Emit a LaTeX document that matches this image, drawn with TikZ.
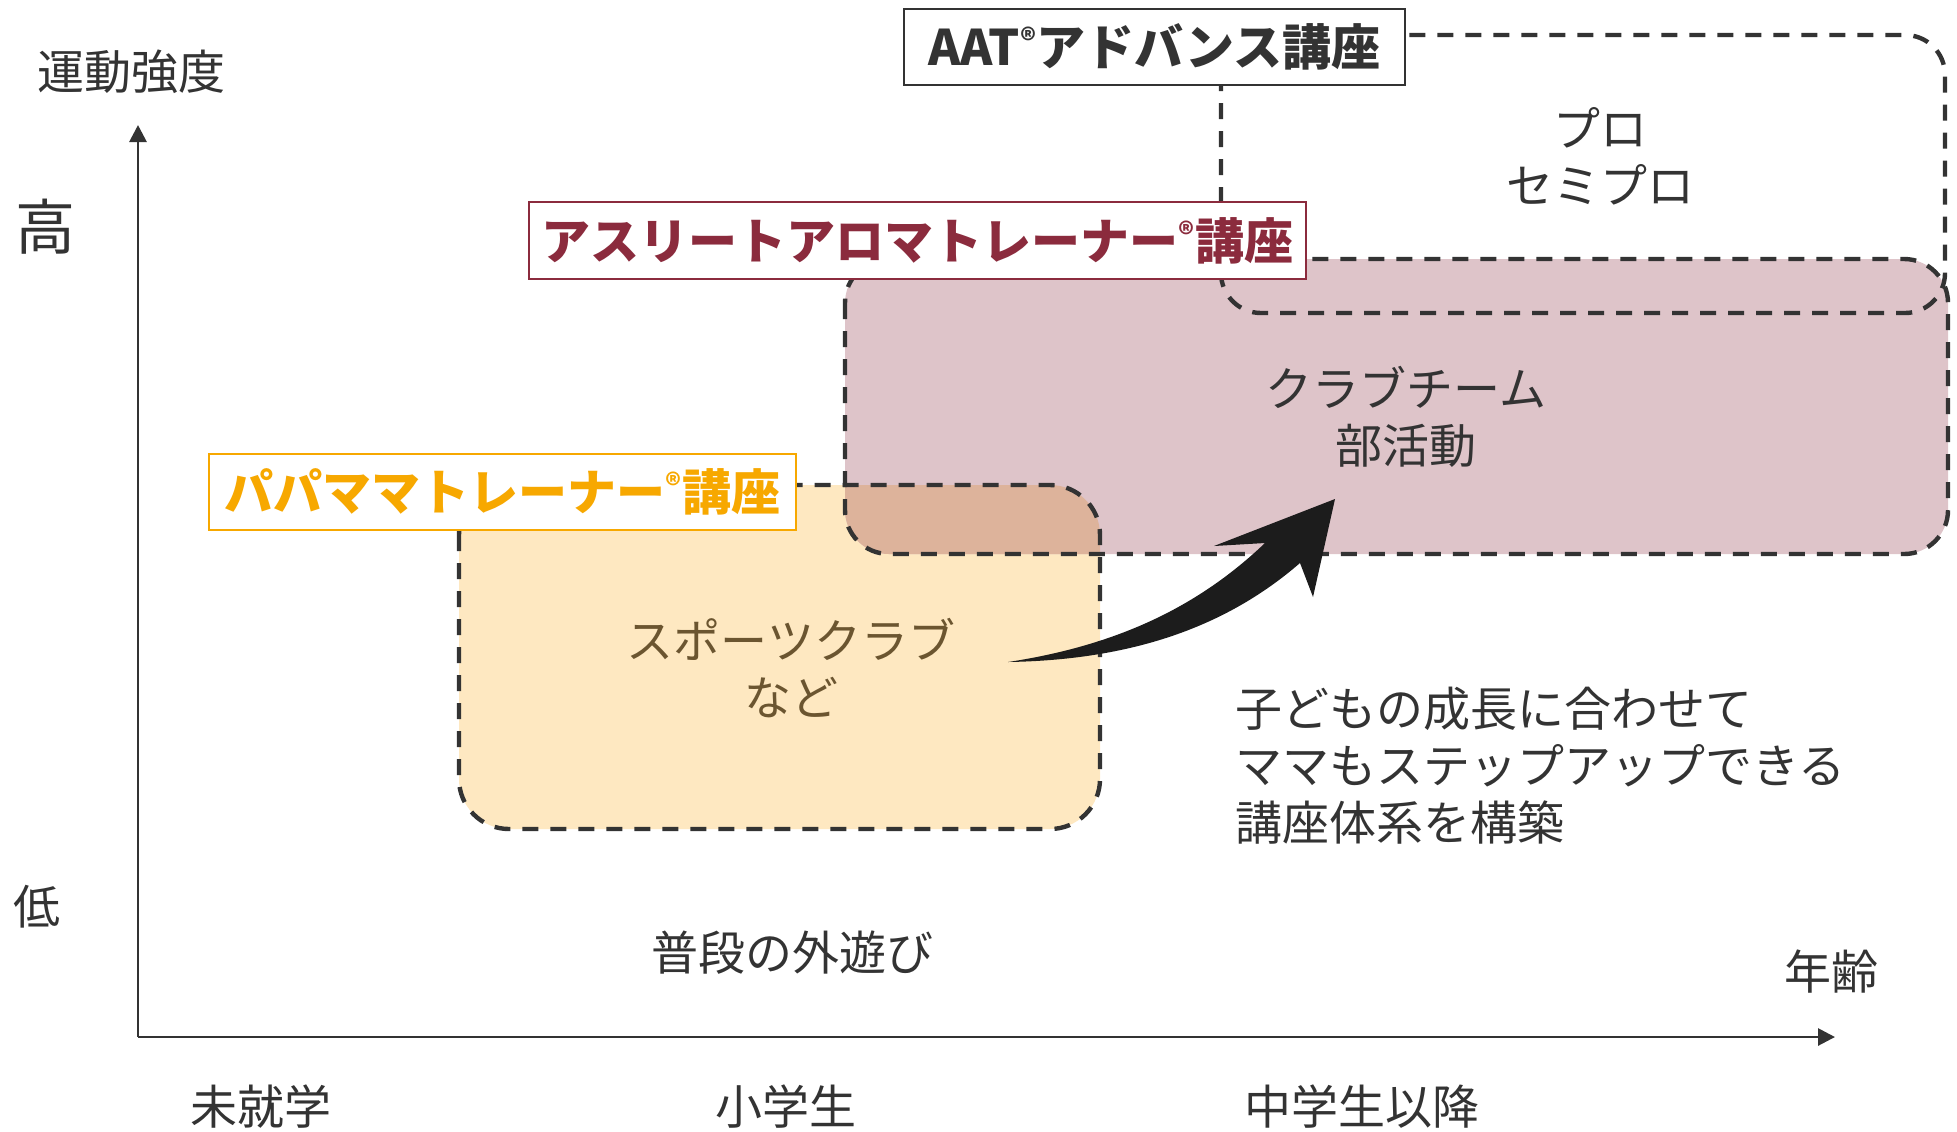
\documentclass[tikz,border=0pt]{standalone}
\usepackage{fontspec}
\setmainfont{Noto Sans CJK JP}
\usetikzlibrary{arrows.meta}
\definecolor{ink}{HTML}{333333}
\definecolor{orfill}{HTML}{FEE8C1}
\definecolor{pufill}{HTML}{DEC4C9}
\definecolor{ovfill}{HTML}{DDB39B}
\definecolor{pured}{HTML}{8B2B3D}
\definecolor{orline}{HTML}{F7A800}
\definecolor{brtext}{HTML}{6B5530}
\definecolor{arrowblack}{HTML}{1C1C1C}
\newcommand\regm{\raisebox{0.28em}{\fontsize{15}{15}\selectfont ®}}
\begin{document}
\begin{tikzpicture}[x=0.5pt,y=-0.5pt,
  txt/.style={font=\fontsize{23.5}{28.5}\selectfont, text=ink, inner sep=0pt, align=center},
  bigtxt/.style={font=\fontsize{30}{34}\selectfont, text=ink, inner sep=0pt},
  zone/.style={draw=ink, line width=2.2pt, dash pattern=on 8pt off 6pt},
  labelbox/.style={fill=white, line width=1pt, inner sep=0pt, minimum height=38pt,
                   font=\bfseries\fontsize{24.5}{28}\selectfont},
  axis/.style={draw=ink, line width=1.4pt, -{Stealth[length=8.5pt,width=8.5pt,inset=0pt]}}]
\useasboundingbox (0,0) rectangle (1957,1131);

% fills
\fill[orfill, rounded corners=25pt] (459,485) rectangle (1100,829);
\fill[pufill, rounded corners=22pt] (845,259) rectangle (1948,554);
\begin{scope}
  \clip[rounded corners=25pt] (459,485) rectangle (1100,829);
  \fill[ovfill, rounded corners=22pt] (845,259) rectangle (1948,554);
\end{scope}

% dashed zone borders
\draw[zone, rounded corners=20pt] (1221,35) rectangle (1945,313);
\draw[zone, rounded corners=22pt] (845,259) rectangle (1948,554);
\draw[zone, rounded corners=25pt] (459,485) rectangle (1100,829);

% axes
\coordinate (origin) at (138,1037);
\coordinate (ytop) at (138,125);
\coordinate (xend) at (1835,1037);
\draw[axis] (origin) -- (ytop);
\draw[axis] (origin) -- (xend);

% label boxes
\node[labelbox, draw=ink, text=ink, minimum width=250.5pt] (aat) at (1154.5,47)
  {AAT\regm アドバンス講座};
\node[labelbox, draw=pured, text=pured, minimum width=388.5pt, minimum height=38.5pt] (athlete) at (917.5,240.5)
  {アスリートアロマトレーナー\regm 講座};
\node[labelbox, draw=orline, text=orline, minimum width=293.5pt] (papa) at (502.5,492)
  {パパママトレーナー\regm 講座};

% axis labels
\node[txt] (yl) at (131,72) {運動強度};
\node[bigtxt] (hi) at (45,227) {高};
\node[txt] (lo) at (37,907) {低};
\node[txt] (xl) at (1831,972) {年齢};
\node[txt] (a1) at (261,1107) {未就学};
\node[txt] (a2) at (786,1107) {小学生};
\node[txt] (a3) at (1362,1107) {中学生以降};

% zone texts
\node[txt] (pro) at (1600,156) {プロ\\セミプロ};
\node[txt] (club) at (1406,417) {クラブチーム\\部活動};
\node[txt, text=brtext] (sport) at (791,668) {スポーツクラブ\\など};
\node[txt] (play) at (792,953) {普段の外遊び};
\node[txt, align=left, anchor=west] (msg) at (1235,766)
  {子どもの成長に合わせて\\ママもステップアップできる\\講座体系を構築};

% big curved arrow
\coordinate (tail) at (1008,662);
\coordinate (tip) at (1335,499);
\fill[arrowblack]
  (tail) .. controls (1120,645) and (1200,605) .. (1265,543)
  -- (1214,546) -- (tip) -- (1313,597) -- (1300,563)
  .. controls (1225,628) and (1130,660) .. (tail) -- cycle;
\end{tikzpicture}
\end{document}
